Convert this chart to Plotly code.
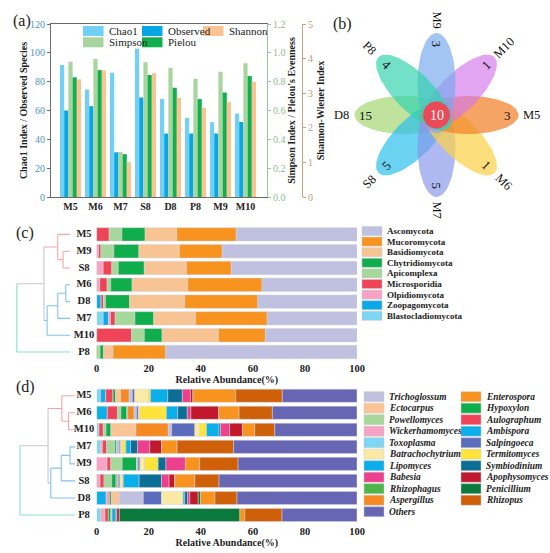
import numpy as np
import plotly.graph_objects as go

W, H = 550, 553
SERIF = "Liberation Serif"


def fx(p):
    return p / W


def fy(p):
    return 1 - p / H


# ------------------------------------------------------------------ data (a)
samples_a = ["M5", "M6", "M7", "S8", "D8", "P8", "M9", "M10"]
chao1 = [91.5, 74.6, 86.2, 102.9, 67.9, 54.9, 51.9, 57.9]
observed = [60, 63, 31, 69, 44, 44, 44, 52]
simpson = [0.938, 0.957, 0.313, 0.934, 0.897, 0.820, 0.869, 0.927]
pielou = [0.830, 0.880, 0.297, 0.846, 0.758, 0.679, 0.725, 0.839]
shannon = [3.40, 3.66, 1.01, 3.58, 2.87, 2.58, 2.75, 3.33]
legend_a = ["Chao1", "Observed", "Shannon", "Simpson", "Pielou"]

# ------------------------------------------------------------------ data (b)
venn_sets = ["M9", "M10", "M5", "M6", "M7", "S8", "D8", "P8"]
venn_unique = [3, 1, 3, 1, 5, 5, 15, 4]
venn_core = 10

# ------------------------------------------------------------------ data (c)
rows_c = ["M5", "M9", "S8", "M6", "D8", "M7", "M10", "P8"]
blastocladiomycota = [0, 0, 0, 0, 0, 2.5, 0, 0]
zoopagomycota = [0, 0, 0, 0, 1.7, 2.0, 0, 0]
olpidiomycota = [0, 0.7, 2.5, 1.2, 0, 0.8, 0, 0]
microsporidia = [4.8, 0.9, 3.3, 2.8, 0.9, 1.8, 13.4, 0]
apicomplexa = [4.9, 5.0, 2.5, 1.4, 0.8, 7.6, 4.9, 1.3]
chytridiomycota = [8.9, 9.6, 10.0, 8.2, 9.2, 7.2, 6.8, 1.3]
basidiomycota = [12.2, 15.6, 16.2, 21.4, 21.3, 16.1, 21.7, 3.7]
mucoromycota = [22.8, 16.4, 17.2, 28.5, 28.0, 27.5, 18.0, 20.2]
ascomycota = [46.4, 51.8, 48.3, 36.5, 38.1, 34.5, 35.2, 73.5]
legend_c = ["Ascomycota", "Mucoromycota", "Basidiomycota", "Chytridiomycota",
            "Apicomplexa", "Microsporidia", "Olpidiomycota", "Zoopagomycota",
            "Blastocladiomycota"]
# dendrogram: (left, right, height as fraction of root height, cluster)
tree_c = ((("M5", ("M9", "S8", 0.13, "pink"), 0.23, "pink"),
           ((("M6", "D8", 0.08, "blue"), "M7", 0.23, "blue"), "M10", 0.43, "blue"),
           0.49, "gray"), "P8", 1.0, "teal")

# ------------------------------------------------------------------ data (d)
rows_d = ["M5", "M6", "M10", "M7", "M9", "S8", "D8", "P8"]
toxoplasma = [1.5, 0, 0.9, 1.6, 0, 0, 0, 1.6]
lipomyces = [2.0, 4.1, 0, 0, 0, 0, 3.6, 0]
wickerhamomyces = [0, 0, 0, 0.6, 4.0, 1.3, 0.9, 1.6]
aulographum = [2.8, 3.9, 1.6, 1.6, 1.4, 1.5, 0.6, 1.3]
powellomyces = [0, 1.3, 1.1, 3.2, 4.4, 3.0, 0, 0]
hypoxylon = [1.0, 2.2, 1.9, 0.7, 5.5, 1.6, 0.6, 0.9]
rhizophagus = [0, 0.4, 0, 0, 0, 0.5, 0, 0.5]
ectocarpus = [1.9, 0, 9.6, 0, 0, 0, 3.0, 0]
aspergillus = [3.3, 2.5, 12.4, 0, 0, 0, 0, 0]
trichoglossum = [1.2, 0.9, 1.3, 1.0, 0.6, 0.4, 9.2, 0]
salpingoeca = [0.9, 0.7, 8.9, 0.5, 0.7, 0.6, 7.0, 0]
batrachochytrium = [5.4, 0.6, 1.9, 0.6, 1.9, 0.9, 8.3, 0]
termitomyces = [0.7, 10.2, 2.6, 1.4, 5.1, 0.4, 0, 0]
ambispora = [6.6, 4.3, 4.8, 1.8, 0, 6.1, 0.6, 1.3]
symbiodinium = [5.6, 3.7, 0.6, 2.7, 3.0, 8.6, 1.1, 0.5]
babesia = [3.1, 1.4, 3.5, 4.7, 7.5, 2.9, 0.9, 0]
apophysomyces = [1.0, 10.7, 4.9, 4.5, 0, 2.2, 3.2, 1.0]
penicillium = [0, 0, 0, 0, 0, 0, 0.9, 46.3]
enterospora = [16.4, 7.8, 4.7, 6.0, 5.5, 7.7, 5.5, 1.9]
rhizopus = [17.9, 12.8, 7.7, 21.7, 14.7, 9.3, 8.5, 14.3]
others = [28.7, 32.5, 31.6, 47.4, 45.7, 53.0, 46.1, 28.8]
legend_d1 = ["Trichoglossum", "Ectocarpus", "Powellomyces", "Wickerhamomyces",
             "Toxoplasma", "Batrachochytrium", "Lipomyces", "Babesia",
             "Rhizophagus", "Aspergillus", "Others"]
legend_d2 = ["Enterospora", "Hypoxylon", "Aulographum", "Ambispora", "Salpingoeca",
             "Termitomyces", "Symbiodinium", "Apophysomyces", "Penicillium", "Rhizopus"]
tree_d = ((("M5", ("M6", "M10", 0.12, "pink"), 0.24, "pink"),
           ((("M7", "M9", 0.09, "blue"), "S8", 0.25, "blue"), "D8", 0.44, "blue"),
           0.49, "gray"), "P8", 1.0, "teal")

# ------------------------------------------------------------------ styles
COL_A = {"Chao1": "#72cff5", "Observed": "#08a6e2", "Simpson": "#a8d59d",
         "Pielou": "#12af4f", "Shannon": "#fbc391"}
COL_C = {"Ascomycota": "#c0c0e0", "Mucoromycota": "#f7931e", "Basidiomycota": "#f9c494",
         "Chytridiomycota": "#10ad4c", "Apicomplexa": "#a6d79b", "Microsporidia": "#ef4357",
         "Olpidiomycota": "#f7a3c4", "Zoopagomycota": "#0aa8e6",
         "Blastocladiomycota": "#7dd6f4"}
COL_D = {"Trichoglossum": "#c0c0e0", "Ectocarpus": "#fbc494", "Powellomyces": "#a6d79b",
         "Wickerhamomyces": "#f7a3c4", "Toxoplasma": "#7dd6f4",
         "Batrachochytrium": "#faeaa5", "Lipomyces": "#0aaee8", "Babesia": "#ec3f8c",
         "Rhizophagus": "#4cb648", "Aspergillus": "#f58a25", "Others": "#6666b4",
         "Enterospora": "#f7931e", "Hypoxylon": "#10ad4c", "Aulographum": "#ef4357",
         "Ambispora": "#0aaee8", "Salpingoeca": "#5b6cbd", "Termitomyces": "#fde33a",
         "Symbiodinium": "#0b6e97", "Apophysomyces": "#c1182e", "Penicillium": "#0a7a3c",
         "Rhizopus": "#d05f0a"}
TREE_COL = {"pink": "#f5a4a8", "blue": "#80c2f0", "gray": "#c8c8c8", "teal": "#86e2cc"}
VENN_COL = ["rgba(118,169,238,0.68)", "rgba(211,119,234,0.66)", "rgba(241,129,42,0.72)",
            "rgba(252,209,74,0.72)", "rgba(132,148,234,0.66)", "rgba(39,188,236,0.68)",
            "rgba(161,214,111,0.68)", "rgba(48,211,174,0.68)"]

fig = go.Figure()
annotations = []
shapes = []

# ------------------------------------------------------------------ panel (a)
A_X0, A_X1, A_Y0, A_Y1 = 51, 267, 24, 197
BW = 0.168
series_a = [("Chao1", chao1, "y"), ("Observed", observed, "y"),
            ("Simpson", simpson, "y2"), ("Pielou", pielou, "y2"),
            ("Shannon", shannon, "y3")]
for i, (name, vals, yax) in enumerate(series_a):
    fig.add_trace(go.Bar(x=samples_a, y=vals, name=name, xaxis="x", yaxis=yax,
                         width=BW, offset=-2.5 * BW + i * BW,
                         marker=dict(color=COL_A[name], line=dict(width=0)),
                         showlegend=False))

LEG_A_POS = [(83, 31), (142, 31), (203, 31), (83, 42.3), (142, 42.3)]
for name, (lx, ly) in zip(legend_a, LEG_A_POS):
    shapes.append(dict(type="rect", xref="paper", yref="paper",
                       x0=fx(lx), x1=fx(lx + 20.5), y0=fy(ly + 5), y1=fy(ly - 5),
                       fillcolor=COL_A[name], line=dict(width=0)))
    annotations.append(dict(x=fx(lx + 23.5), y=fy(ly), xref="paper", yref="paper",
                            text=name, showarrow=False, xanchor="left", yanchor="middle",
                            font=dict(family=SERIF, size=11, color="#222")))

# ------------------------------------------------------------------ panel (b)
VC = (436.5, 115.0)
PA, PB, POFF = 50.0, 19.0, 32.0
NUM_R, LAB_R = 71.0, 95.0
angles = [90, 45, 0, -45, -90, -135, 180, 135]
t = np.linspace(0, 2 * np.pi, 90)
draw_order = [6, 5, 4, 3, 2, 1, 0, 7]
for k in draw_order:
    th = np.radians(angles[k])
    ux, uy = np.cos(th), -np.sin(th)
    vx, vy = np.sin(th), np.cos(th)
    cx, cy = VC[0] + POFF * ux, VC[1] + POFF * uy
    xs = cx + PA * np.cos(t) * ux + PB * np.sin(t) * vx
    ys = cy + PA * np.cos(t) * uy + PB * np.sin(t) * vy
    fig.add_trace(go.Scatter(x=xs, y=ys, mode="lines", fill="toself",
                             fillcolor=VENN_COL[k], line=dict(width=0),
                             xaxis="x2", yaxis="y4", hoverinfo="skip", showlegend=False,
                             name=venn_sets[k]))
fig.add_trace(go.Scatter(x=VC[0] + 13.5 * np.cos(t), y=VC[1] + 13.5 * np.sin(t),
                         mode="lines", fill="toself", fillcolor="#ea4957",
                         line=dict(width=0), xaxis="x2", yaxis="y4",
                         hoverinfo="skip", showlegend=False, name="core"))
for k, (lab, cnt) in enumerate(zip(venn_sets, venn_unique)):
    th = np.radians(angles[k])
    ux, uy = np.cos(th), -np.sin(th)
    ta = 90 - ((90 + angles[k]) % 180)
    annotations.append(dict(x=VC[0] + NUM_R * ux, y=VC[1] + NUM_R * uy, xref="x2", yref="y4",
                            text=str(cnt), showarrow=False, textangle=ta,
                            font=dict(family=SERIF, size=13, color="#111")))
    annotations.append(dict(x=VC[0] + LAB_R * ux, y=VC[1] + LAB_R * uy, xref="x2", yref="y4",
                            text=lab, showarrow=False, textangle=ta,
                            font=dict(family=SERIF, size=12.5, color="#111")))
annotations.append(dict(x=VC[0], y=VC[1] + 0.5, xref="x2", yref="y4", text=str(venn_core),
                        showarrow=False, font=dict(family=SERIF, size=14, color="white")))


# ------------------------------------------------------------------ dendrogram helper
def dendro(tree, rows, leaf_x, root_x, xa, ya):
    pos = {r: i for i, r in enumerate(rows)}
    segs = {}

    def px(h):
        return leaf_x - h * (leaf_x - root_x)

    def walk(node):
        if isinstance(node, str):
            return pos[node], 0.0, None
        left, right, h, col = node
        yl, hl, cl = walk(left)
        yr, hr, cr = walk(right)
        segs.setdefault(cl or col, []).append(((px(hl), yl), (px(h), yl)))
        segs.setdefault(cr or col, []).append(((px(hr), yr), (px(h), yr)))
        segs.setdefault(col, []).append(((px(h), yl), (px(h), yr)))
        return (yl + yr) / 2, h, col

    walk(tree)
    for col, ss in segs.items():
        xs, ys = [], []
        for (x0, y0), (x1, y1) in ss:
            xs += [x0, x1, None]
            ys += [y0, y1, None]
        fig.add_trace(go.Scatter(x=xs, y=ys, mode="lines", xaxis=xa, yaxis=ya,
                                 line=dict(color=TREE_COL[col], width=1.1),
                                 hoverinfo="skip", showlegend=False))
    fig.add_trace(go.Scatter(x=[84] * len(rows), y=list(range(len(rows))), mode="text",
                             text=rows, textposition="middle center", cliponaxis=False,
                             textfont=dict(family=SERIF, size=10.5, color="#222", weight="bold"),
                             xaxis=xa, yaxis=ya, hoverinfo="skip", showlegend=False))


def stacked(series, rows, colors, xa, ya, width):
    base = np.zeros(len(rows))
    for name, vals in series:
        v = np.array(vals, dtype=float)
        fig.add_trace(go.Bar(y=list(range(len(rows))), x=v, base=base.copy(), orientation="h",
                             width=width, name=name, xaxis=xa, yaxis=ya,
                             marker=dict(color=colors[name], line=dict(color="#d4d4d4", width=0.5)),
                             showlegend=False))
        base = base + v


def box_legend(names, colors, x0, y0, dy, sw_w, sw_h, size, italic):
    for i, n in enumerate(names):
        y = y0 + i * dy
        shapes.append(dict(type="rect", xref="paper", yref="paper",
                           x0=fx(x0), x1=fx(x0 + sw_w), y0=fy(y + sw_h / 2), y1=fy(y - sw_h / 2),
                           fillcolor=colors[n], line=dict(color="#c8c8c8", width=0.5)))
        txt = f"<b><i>{n}</i></b>" if italic else f"<b>{n}</b>"
        annotations.append(dict(x=fx(x0 + sw_w + 3), y=fy(y), xref="paper", yref="paper",
                                text=txt, showarrow=False, xanchor="left", yanchor="middle",
                                font=dict(family=SERIF, size=size, color="#222")))


# ------------------------------------------------------------------ panel (c)
BAR_X0, BAR_X1 = 96.7, 357.0
C_TOP, C_STEP = 226.0, 16.8
C_BOT = C_TOP + 8 * C_STEP
series_c = [("Blastocladiomycota", blastocladiomycota), ("Zoopagomycota", zoopagomycota),
            ("Olpidiomycota", olpidiomycota), ("Microsporidia", microsporidia),
            ("Apicomplexa", apicomplexa), ("Chytridiomycota", chytridiomycota),
            ("Basidiomycota", basidiomycota), ("Mucoromycota", mucoromycota),
            ("Ascomycota", ascomycota)]
stacked(series_c, rows_c, COL_C, "x3", "y5", 0.8)
dendro(tree_c, rows_c, 70.0, 16.8, "x4", "y6")
box_legend(legend_c, COL_C, 362, 231.0, 10.6, 20, 9, 9, False)

# ------------------------------------------------------------------ panel (d)
D_TOP, D_STEP = 387.2, 17.04
D_BOT = D_TOP + 8 * D_STEP
series_d = [("Toxoplasma", toxoplasma), ("Lipomyces", lipomyces),
            ("Wickerhamomyces", wickerhamomyces), ("Aulographum", aulographum),
            ("Powellomyces", powellomyces), ("Hypoxylon", hypoxylon),
            ("Rhizophagus", rhizophagus), ("Ectocarpus", ectocarpus),
            ("Aspergillus", aspergillus), ("Trichoglossum", trichoglossum),
            ("Salpingoeca", salpingoeca), ("Batrachochytrium", batrachochytrium),
            ("Termitomyces", termitomyces), ("Ambispora", ambispora),
            ("Symbiodinium", symbiodinium), ("Babesia", babesia),
            ("Apophysomyces", apophysomyces), ("Penicillium", penicillium),
            ("Enterospora", enterospora), ("Rhizopus", rhizopus), ("Others", others)]
stacked(series_d, rows_d, COL_D, "x5", "y7", 0.77)
dendro(tree_d, rows_d, 75.0, 20.0, "x6", "y8")
box_legend(legend_d1, COL_D, 364, 396.7, 11.5, 20, 10, 9.4, True)
box_legend(legend_d2, COL_D, 461, 396.7, 11.5, 20, 10, 9.4, True)

# ------------------------------------------------------------------ panel labels
for lab, (px_, py_) in zip(["(a)", "(b)", "(c)", "(d)"],
                           [(12, 11), (342, 14), (15, 233), (15, 397)]):
    annotations.append(dict(x=fx(px_), y=fy(py_), xref="paper", yref="paper", text=lab,
                            showarrow=False, borderpad=0,
                            font=dict(family=SERIF, size=16, color="#222")))

# ------------------------------------------------------------------ axes
bold10 = dict(family=SERIF, size=10, color="#222", weight="bold")
hidden = dict(visible=False, showgrid=False, zeroline=False, automargin=False)
rel_axis = dict(range=[0, 100], tickvals=[0, 20, 40, 60, 80, 100], ticks="", showline=False,
                showgrid=False, zeroline=False, automargin=False,
                tickfont=dict(family=SERIF, size=10.5, color="#222", weight="bold"),
                title=dict(text="Relative Abundance(%)", font=bold10, standoff=2))

fig.update_layout(
    width=W, height=H, margin=dict(l=0, r=0, t=0, b=0, pad=0, autoexpand=False),
    paper_bgcolor="white", plot_bgcolor="rgba(0,0,0,0)",
    barmode="overlay", showlegend=False,
    font=dict(family=SERIF, size=10, color="#222"),
    xaxis=dict(domain=[fx(A_X0), fx(A_X1)], range=[-0.78, 7.86], type="category",
               showline=True, linecolor="#6a6a6a", linewidth=1, mirror=True, ticks="",
               showgrid=False, tickfont=bold10, anchor="y", automargin=False),
    yaxis=dict(domain=[fy(A_Y1), fy(A_Y0)], range=[0, 120], tickvals=list(range(0, 121, 20)),
               showline=True, linecolor="#6a6a6a", linewidth=1, ticks="outside", ticklen=3,
               tickcolor="#6a6a6a", showgrid=False, zeroline=False, automargin=False,
               tickfont=dict(family=SERIF, size=10, color="#4a95c4"),
               title=dict(text="Chao1 Index / Observed Species", font=bold10, standoff=0)),
    yaxis2=dict(overlaying="y", side="right", anchor="x", range=[0, 1.2],
                tickvals=[0, 0.2, 0.4, 0.6, 0.8, 1.0, 1.2], tickformat=".1f",
                showline=True, linecolor="#9cc39c", linewidth=1, ticks="outside", ticklen=3,
                tickcolor="#9cc39c", showgrid=False, zeroline=False, automargin=False,
                tickfont=dict(family=SERIF, size=10, color="#8dba8d"),
                title=dict(text="Simpson Index / Pielou's Evenness", font=bold10, standoff=2)),
    yaxis3=dict(overlaying="y", side="right", anchor="free", position=fx(302), range=[0, 5],
                tickvals=[0, 1, 2, 3, 4, 5], showline=True, linecolor="#c9a27e", linewidth=1,
                ticks="outside", ticklen=3, tickcolor="#c9a27e", showgrid=False, zeroline=False,
                automargin=False,
                tickfont=dict(family=SERIF, size=10, color="#c39a72"),
                title=dict(text="Shannon-Wiener Index", font=bold10, standoff=4)),
    xaxis2=dict(domain=[fx(325), 1], range=[325, 550], anchor="y4", **hidden),
    yaxis4=dict(domain=[fy(220), 1], range=[220, 0], anchor="x2", **hidden),
    xaxis3=dict(domain=[fx(BAR_X0), fx(BAR_X1)], anchor="y5", **rel_axis),
    yaxis5=dict(domain=[fy(C_BOT), fy(C_TOP)], range=[7.5, -0.5], anchor="x3", **hidden),
    xaxis4=dict(domain=[0, fx(96)], range=[0, 96], anchor="y6", **hidden),
    yaxis6=dict(domain=[fy(C_BOT), fy(C_TOP)], range=[7.5, -0.5], anchor="x4", **hidden),
    xaxis5=dict(domain=[fx(BAR_X0), fx(BAR_X1)], anchor="y7", **rel_axis),
    yaxis7=dict(domain=[fy(D_BOT), fy(D_TOP)], range=[7.5, -0.5], anchor="x5", **hidden),
    xaxis6=dict(domain=[0, fx(96)], range=[0, 96], anchor="y8", **hidden),
    yaxis8=dict(domain=[fy(D_BOT), fy(D_TOP)], range=[7.5, -0.5], anchor="x6", **hidden),
    annotations=annotations, shapes=shapes,
)

fig.write_html("out.html", config={"displayModeBar": False},
               post_script="document.body.style.margin='0';document.body.style.padding='0';")
